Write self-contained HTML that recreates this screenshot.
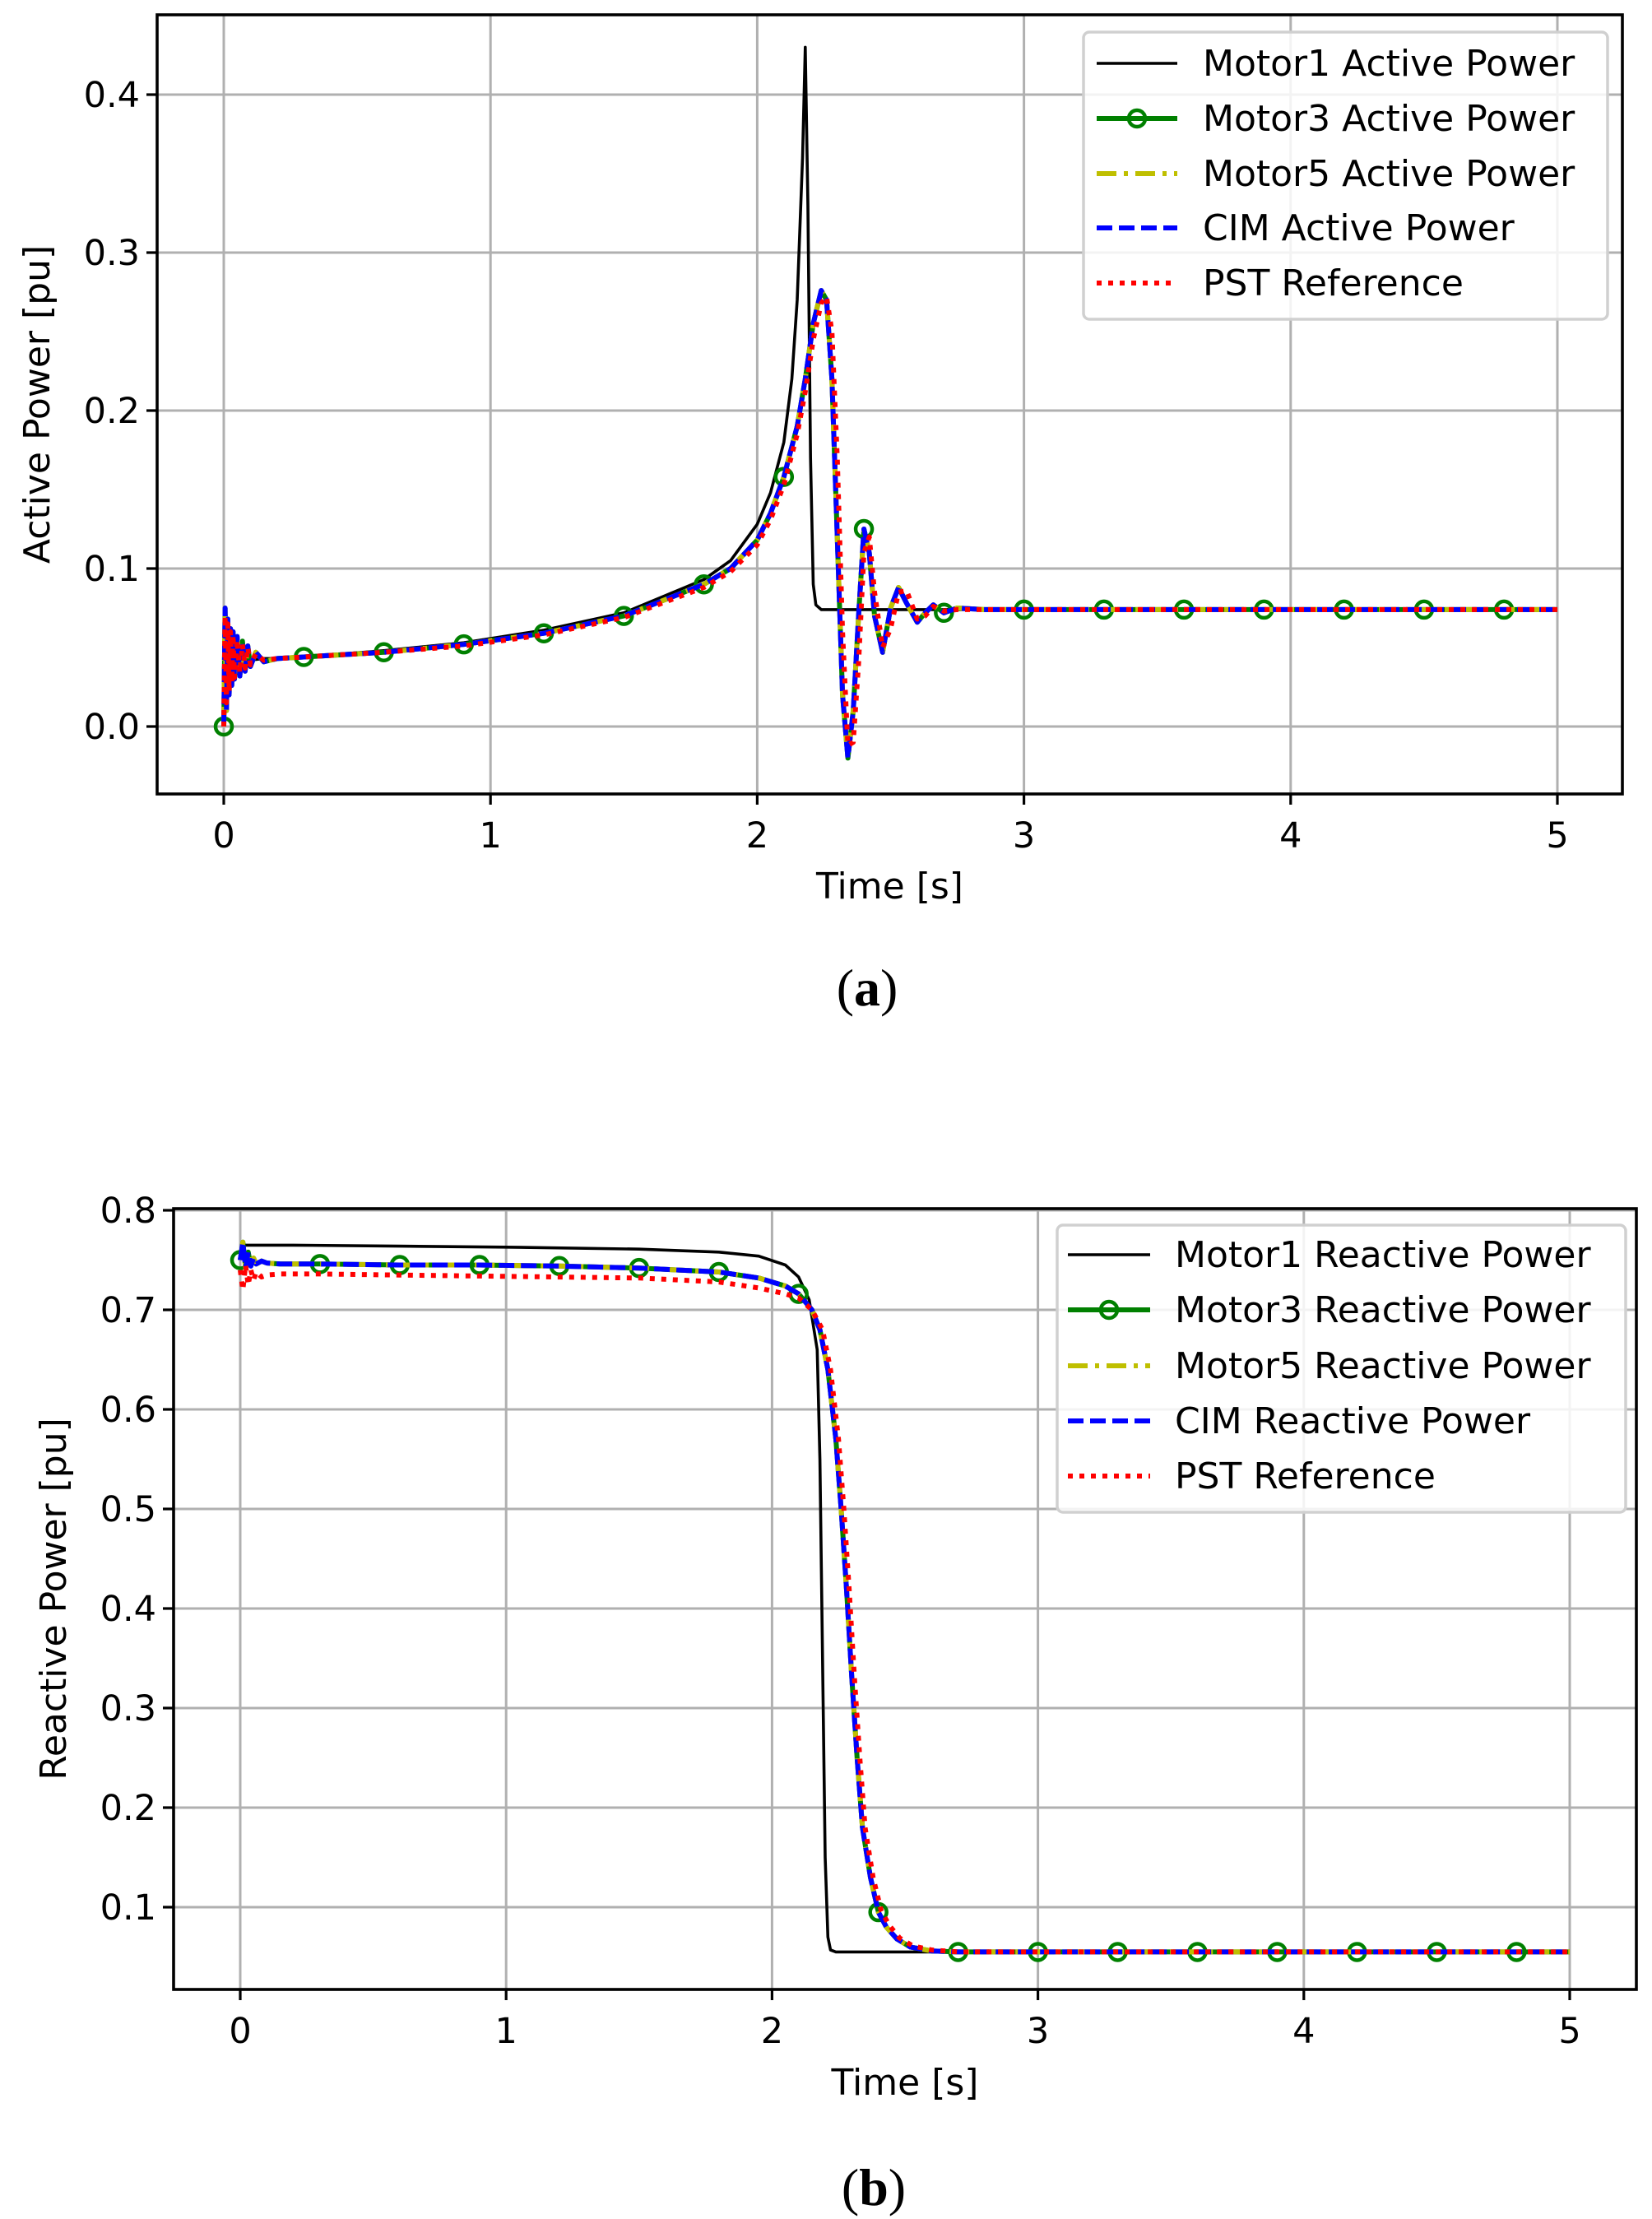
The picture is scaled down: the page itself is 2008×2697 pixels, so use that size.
<!DOCTYPE html>
<html><head><meta charset="utf-8">
<style>
html,body{margin:0;padding:0;background:#fff;}
svg{display:block;font-family:"DejaVu Sans","Liberation Sans",sans-serif;}
</style></head>
<body>
<svg id="fig" width="2008" height="2697" viewBox="0 0 2008 2697" xmlns="http://www.w3.org/2000/svg">
<g id="pa"></g>
<g id="pb"></g>
<text x="1054" y="1222" font-family="Liberation Serif, serif" font-size="64" text-anchor="middle">(<tspan font-weight="bold">a</tspan>)</text>
<text x="1062" y="2680" font-family="Liberation Serif, serif" font-size="64" text-anchor="middle">(<tspan font-weight="bold">b</tspan>)</text>
</svg>
<script>
// ---- Active power data ----
const tA_m1 = [0,0.005,0.01,0.015,0.02,0.03,0.04,0.05,0.06,0.08,0.1,0.15,0.2,0.3,0.6,0.9,1.2,1.5,1.8,1.9,2.0,2.05,2.1,2.13,2.15,2.17,2.18,2.19,2.2,2.21,2.22,2.24,2.3,5.0];
const pA_m1 = [0.005,0.07,0.02,0.06,0.03,0.055,0.035,0.05,0.038,0.046,0.042,0.043,0.043,0.044,0.048,0.053,0.061,0.072,0.093,0.105,0.128,0.148,0.18,0.22,0.27,0.36,0.43,0.33,0.17,0.09,0.077,0.074,0.074,0.074];
const tA_m = [0,0.005,0.01,0.015,0.02,0.025,0.03,0.035,0.04,0.05,0.06,0.07,0.08,0.09,0.1,0.12,0.15,0.2,0.3,0.6,0.9,1.2,1.5,1.8,1.9,2.0,2.05,2.1,2.15,2.18,2.21,2.24,2.26,2.28,2.3,2.32,2.34,2.36,2.38,2.4,2.42,2.44,2.47,2.5,2.53,2.56,2.6,2.63,2.66,2.7,2.75,2.85,5.0];
const pA_m = [0.0,0.075,0.01,0.068,0.02,0.062,0.026,0.06,0.03,0.057,0.032,0.054,0.035,0.051,0.038,0.047,0.041,0.043,0.044,0.047,0.052,0.059,0.07,0.09,0.1,0.118,0.135,0.158,0.19,0.22,0.255,0.276,0.27,0.22,0.12,0.02,-0.02,0.01,0.07,0.125,0.11,0.07,0.047,0.075,0.088,0.078,0.066,0.072,0.077,0.072,0.075,0.074,0.074];
const tA_pst = [0,0.005,0.01,0.015,0.02,0.025,0.03,0.035,0.04,0.05,0.06,0.07,0.08,0.09,0.1,0.12,0.15,0.2,0.3,0.6,0.9,1.2,1.5,1.8,1.9,2.0,2.05,2.1,2.15,2.18,2.21,2.24,2.26,2.28,2.3,2.32,2.34,2.36,2.38,2.4,2.42,2.44,2.47,2.5,2.53,2.56,2.6,2.63,2.66,2.7,2.75,2.85,5.0];
const pA_pst = [0.0,0.07,0.015,0.065,0.022,0.06,0.028,0.058,0.031,0.055,0.034,0.052,0.037,0.05,0.039,0.046,0.042,0.043,0.044,0.047,0.051,0.058,0.069,0.088,0.098,0.115,0.131,0.153,0.185,0.212,0.245,0.268,0.272,0.25,0.17,0.06,-0.012,-0.01,0.04,0.11,0.12,0.085,0.05,0.062,0.085,0.086,0.068,0.07,0.076,0.073,0.074,0.074,0.074];
const yTicksA = [0.0,0.1,0.2,0.3,0.4];
const yTickLabelsA = ["0.0","0.1","0.2","0.3","0.4"];
// ---- Reactive power data ----
const tR_m1 = [0,0.2,0.6,1.0,1.5,1.8,1.95,2.05,2.1,2.14,2.17,2.18,2.19,2.2,2.21,2.22,2.24,2.3,5.0];
const qR_m1 = [0.765,0.765,0.764,0.763,0.761,0.758,0.754,0.745,0.733,0.71,0.66,0.55,0.35,0.15,0.07,0.057,0.055,0.055,0.055];
const tR_m = [0,0.01,0.02,0.03,0.04,0.05,0.06,0.08,0.1,0.15,0.3,0.6,0.9,1.2,1.5,1.8,1.95,2.05,2.1,2.15,2.18,2.21,2.24,2.26,2.28,2.3,2.32,2.34,2.37,2.4,2.43,2.47,2.52,2.6,2.7,5.0];
const qR_m = [0.75,0.768,0.742,0.758,0.744,0.752,0.746,0.749,0.747,0.746,0.746,0.745,0.745,0.744,0.742,0.738,0.732,0.724,0.716,0.7,0.68,0.64,0.57,0.5,0.42,0.33,0.25,0.18,0.13,0.095,0.08,0.068,0.06,0.056,0.055,0.055];
const tR_pst = [0,0.01,0.02,0.03,0.04,0.05,0.06,0.08,0.1,0.15,0.3,0.6,0.9,1.2,1.5,1.8,1.95,2.05,2.1,2.15,2.19,2.22,2.25,2.27,2.29,2.31,2.33,2.35,2.38,2.41,2.44,2.48,2.53,2.6,2.7,5.0];
const qR_pst = [0.74,0.72,0.745,0.725,0.74,0.73,0.738,0.733,0.735,0.736,0.736,0.735,0.734,0.733,0.732,0.728,0.722,0.716,0.712,0.7,0.68,0.64,0.57,0.5,0.42,0.33,0.25,0.18,0.13,0.097,0.082,0.069,0.061,0.057,0.055,0.055];
const yTicksR = [0.1,0.2,0.3,0.4,0.5,0.6,0.7,0.8];
const yTickLabelsR = ["0.1","0.2","0.3","0.4","0.5","0.6","0.7","0.8"];
const xTicks = [0,1,2,3,4,5];
const xTickLabels = ["0","1","2","3","4","5"];
const markerTimes = [0,0.3,0.6,0.9,1.2,1.5,1.8,2.1,2.4,2.7,3.0,3.3,3.6,3.9,4.2,4.5,4.8];
const legendA = ["Motor1 Active Power","Motor3 Active Power","Motor5 Active Power","CIM Active Power","PST Reference"];
const legendR = ["Motor1 Reactive Power","Motor3 Reactive Power","Motor5 Reactive Power","CIM Reactive Power","PST Reference"];

const NS="http://www.w3.org/2000/svg";
function mk(tag,attrs,parent){const e=document.createElementNS(NS,tag);for(const k in attrs)e.setAttribute(k,attrs[k]);parent.appendChild(e);return e;}
function interp(ts,vs,t){for(let i=1;i<ts.length;i++){if(t<=ts[i]){const f=(t-ts[i-1])/(ts[i]-ts[i-1]);return vs[i-1]+f*(vs[i]-vs[i-1]);}}return vs[vs.length-1];}
const styles=[
 {stroke:"#000",w:3.6,dash:""},
 {stroke:"#008000",w:6,dash:""},
 {stroke:"#bfbf00",w:6,dash:"24 9 5 9"},
 {stroke:"#0000ff",w:6,dash:"19 8"},
 {stroke:"#ff0000",w:6,dash:"6 8"}];
const seriesNames=["motor1","motor3","motor5","cim","pst"];

function drawChart(g,cfg){
  const X=v=>cfg.x0+(v-0)*(cfg.x5-cfg.x0)/5;
  const Y=v=>cfg.yRefPix+(cfg.yRefVal-v)*cfg.ppu;
  for(const t of xTicks){const l=mk("line",{x1:X(t),x2:X(t),y1:cfg.top,y2:cfg.bottom,stroke:"#b0b0b0","stroke-width":3},g);
    
    }
  for(const v of cfg.yTicks){const l=mk("line",{x1:cfg.left,x2:cfg.right,y1:Y(v),y2:Y(v),stroke:"#b0b0b0","stroke-width":3},g);
    
    }
  const sets=cfg.series;
  sets.forEach((s,i)=>{
    let d="";s.t.forEach((t,j)=>{d+=(j?"L":"M")+X(t).toFixed(1)+","+Y(s.v[j]).toFixed(1);});
    const p=mk("path",{d:d,fill:"none",stroke:styles[i].stroke,"stroke-width":styles[i].w,"stroke-dasharray":styles[i].dash,"stroke-linejoin":"round"},g);
    
    
    if(i===1){
      for(const mt of markerTimes){const c=mk("circle",{cx:X(mt),cy:Y(interp(s.t,s.v,mt)),r:10,fill:"none",stroke:"#008000","stroke-width":4.5},g);
        
        }
    }
  });
  const r=mk("rect",{x:cfg.left,y:cfg.top,width:cfg.right-cfg.left,height:cfg.bottom-cfg.top,fill:"none",stroke:"#000","stroke-width":3.6},g);
  
  
  xTicks.forEach((t,i)=>{
    mk("line",{x1:X(t),x2:X(t),y1:cfg.bottom,y2:cfg.bottom+13,stroke:"#000","stroke-width":3.2},g);
    const tx=mk("text",{x:X(t),y:cfg.bottom+65,"font-size":43,"text-anchor":"middle"},g);tx.textContent=xTickLabels[i];
    
    
  });
  cfg.yTicks.forEach((v,i)=>{
    mk("line",{x1:cfg.left-13,x2:cfg.left,y1:Y(v),y2:Y(v),stroke:"#000","stroke-width":3.2},g);
    const tx=mk("text",{x:cfg.left-21,y:Y(v)+15,"font-size":43,"text-anchor":"end"},g);tx.textContent=cfg.yLabels[i];
    
    
  });
  const xl=mk("text",{x:(cfg.left+cfg.right)/2,y:cfg.xlabelY,"font-size":44,"text-anchor":"middle"},g);xl.textContent="Time [s]";
  
  
  const yl=mk("text",{x:0,y:0,"font-size":44,"text-anchor":"middle",transform:`translate(${cfg.ylabelX},${(cfg.top+cfg.bottom)/2}) rotate(-90)`},g);yl.textContent=cfg.ylabel;
  
  
  const L=cfg.legend;
  const lb=mk("rect",{x:L.x,y:L.y,width:L.w,height:L.h,rx:7,fill:"#fff","fill-opacity":0.85,stroke:"#d0d0d0","stroke-width":3.5},g);
  
  
  cfg.legendLabels.forEach((lab,i)=>{
    const yy=L.ys[i];
    const ln=mk("line",{x1:L.lx1,x2:L.lx2,y1:yy,y2:yy,stroke:styles[i].stroke,"stroke-width":styles[i].w,"stroke-dasharray":styles[i].dash},g);
    
    
    if(i===1){const c=mk("circle",{cx:(L.lx1+L.lx2)/2,cy:yy,r:10,fill:"none",stroke:"#008000","stroke-width":4.5},g);
      
      }
    const t=mk("text",{x:L.tx,y:yy+15,"font-size":44},g);t.textContent=lab;
    
    
  });
}

drawChart(document.getElementById("pa"),{
  left:191,right:1972,top:18,bottom:965,x0:272,x5:1893,
  yRefPix:883,yRefVal:0,ppu:1920,yTicks:yTicksA,yLabels:yTickLabelsA,
  xlabelY:1092,ylabelX:60,ylabel:"Active Power [pu]",
  series:[{t:tA_m1,v:pA_m1},{t:tA_m,v:pA_m},{t:tA_m,v:pA_m},{t:tA_m,v:pA_m},{t:tA_pst,v:pA_pst}],
  legendLabels:legendA,
  legend:{x:1317,y:39,w:637,h:349,ys:[77,144,211,277,344],lx1:1333,lx2:1431,tx:1462}
});
drawChart(document.getElementById("pb"),{
  left:211,right:1989,top:1469,bottom:2418,x0:292,x5:1908,
  yRefPix:1471,yRefVal:0.8,ppu:1210,yTicks:yTicksR,yLabels:yTickLabelsR,
  xlabelY:2546,ylabelX:80,ylabel:"Reactive Power [pu]",
  series:[{t:tR_m1,v:qR_m1},{t:tR_m,v:qR_m},{t:tR_m,v:qR_m},{t:tR_m,v:qR_m},{t:tR_pst,v:qR_pst}],
  legendLabels:legendR,
  legend:{x:1285,y:1489,w:691,h:349,ys:[1525,1592,1660,1727,1794],lx1:1298,lx2:1398,tx:1428}
});
</script>
</body></html>
